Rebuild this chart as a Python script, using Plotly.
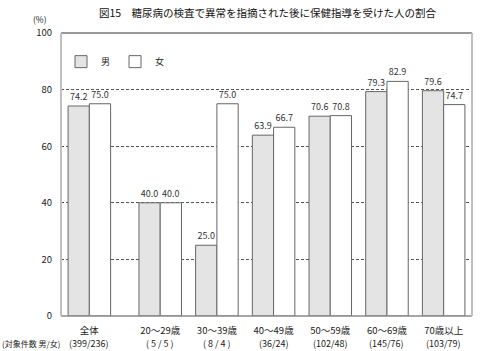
import plotly.graph_objects as go

categories = ["全体", "20～29歳", "30～39歳", "40～49歳", "50～59歳", "60～69歳", "70歳以上"]
counts = ["(399/236)", "( 5 / 5 )", "( 8 / 4 )", "(36/24)", "(102/48)", "(145/76)", "(103/79)"]
male = [74.2, 40.0, 25.0, 63.9, 70.6, 79.3, 79.6]
female = [75.0, 40.0, 75.0, 66.7, 70.8, 82.9, 74.7]
y_ticks = [0, 20, 40, 60, 80, 100]

# extra spacing after the "全体" group
xpos = [i + (0.25 if i > 0 else 0) for i in range(len(categories))]

FONT = "Noto Sans CJK JP"

fig = go.Figure()
fig.add_trace(go.Bar(
    x=xpos, y=male, name="男",
    marker=dict(color="#e4e4e4", line=dict(color="#666666", width=1)),
    text=[f"{v:.1f}" for v in male], textposition="outside",
    textfont=dict(size=9, color="#333333", family=FONT),
    cliponaxis=False,
))
fig.add_trace(go.Bar(
    x=xpos, y=female, name="女",
    marker=dict(color="#ffffff", line=dict(color="#666666", width=1)),
    text=[f"{v:.1f}" for v in female], textposition="outside",
    textfont=dict(size=9, color="#333333", family=FONT),
    cliponaxis=False,
))

count_annotations = [
    dict(text=n, x=xp, xref="x", y=-0.096, yref="paper",
         xanchor="center", yanchor="middle", showarrow=False,
         font=dict(size=9, family=FONT))
    for xp, n in zip(xpos, counts)
]

fig.update_layout(
    width=482, height=351,
    margin=dict(l=61, r=10, t=33, b=35, autoexpand=False),
    paper_bgcolor="white", plot_bgcolor="white",
    font=dict(family=FONT, size=9, color="#222222"),
    barmode="group", bargap=0.25, bargroupgap=0,
    showlegend=True,
    legend=dict(orientation="h", x=0.0, y=0.95, xanchor="left", yanchor="top",
                font=dict(size=9, family=FONT), bgcolor="rgba(0,0,0,0)",
                itemwidth=30, traceorder="normal"),
    title=dict(text="図15　糖尿病の検査で異常を指摘された後に保健指導を受けた人の割合",
               x=0.555, xref="container", xanchor="center",
               y=1 - 13 / 351, yref="container", yanchor="middle",
               font=dict(size=10.5, family=FONT, color="#111111")),
    xaxis=dict(range=[-0.5, 6.75], tickmode="array", tickvals=xpos, ticktext=categories,
               showgrid=False, zeroline=False, showline=False, ticks="",
               automargin=False,
               tickfont=dict(size=9.5, family=FONT), ticklabelstandoff=7),
    yaxis=dict(range=[0, 100], tickmode="array", tickvals=y_ticks,
               showgrid=True, gridcolor="#555555", griddash="3px,2px", gridwidth=1,
               zeroline=False, showline=False, ticks="", automargin=False,
               tickfont=dict(size=9.5, family=FONT), ticklabelstandoff=8),
    shapes=[
        dict(type="line", xref="paper", yref="paper", x0=0, x1=1, y0=1, y1=1,
             line=dict(color="#777777", width=1.5)),
        dict(type="line", xref="paper", yref="paper", x0=0, x1=1, y0=0, y1=0,
             line=dict(color="#888888", width=1.5)),
        dict(type="line", xref="paper", yref="paper", x0=0, x1=0, y0=0, y1=1,
             line=dict(color="#c0c0c0", width=2)),
        dict(type="line", xref="paper", yref="paper", x0=1, x1=1, y0=0, y1=1,
             line=dict(color="#c0c0c0", width=2)),
    ],
    annotations=[
        dict(text="(%)", xref="paper", yref="paper", x=-0.05, y=1.05,
             xanchor="center", yanchor="middle", showarrow=False,
             font=dict(size=8.5, family=FONT)),
        dict(text="(対象件数 男/女)", xref="paper", yref="paper", x=-0.148, y=-0.096,
             xanchor="left", yanchor="middle", showarrow=False,
             font=dict(size=8, family=FONT)),
    ] + count_annotations,
)

fig.write_html("out.html")
